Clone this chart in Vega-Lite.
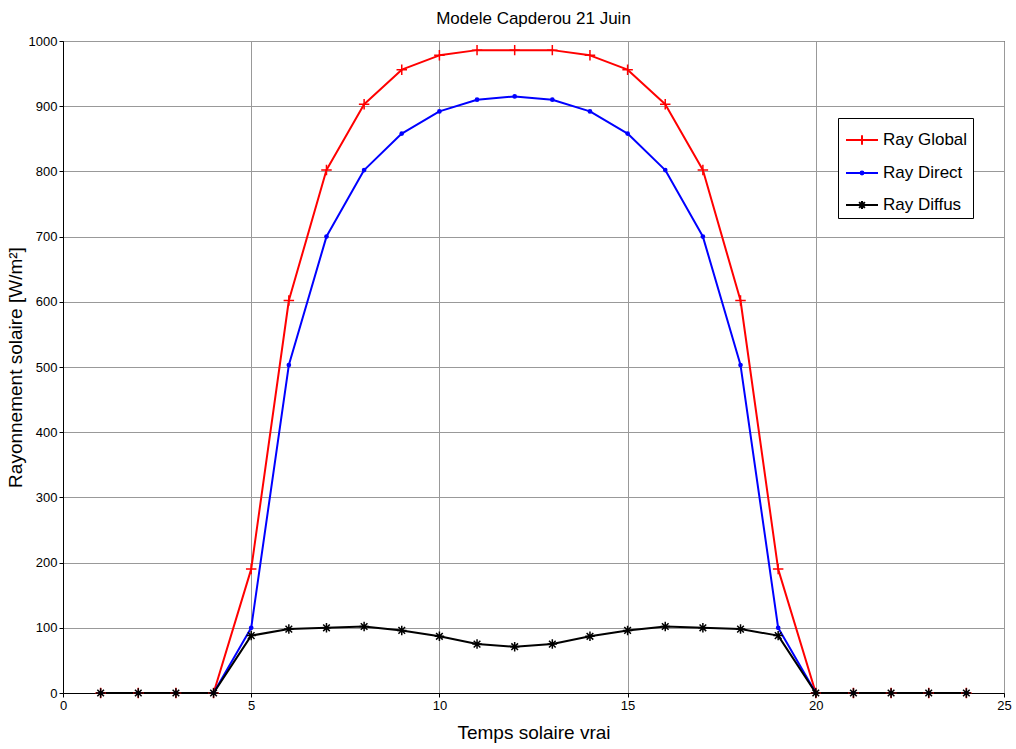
{
  "$schema": "https://vega.github.io/schema/vega-lite/v6.json",
  "autosize": "none",
  "padding": {"left": 63, "top": 41, "right": 12, "bottom": 56},
  "width": 941,
  "height": 652,
  "background": "white",
  "title": {"text": "Modele Capderou 21 Juin", "font": "Liberation Sans Narrow, Liberation Sans", "fontSize": 17, "fontWeight": "normal", "color": "black", "offset": 7},
  "config": {
    "view": {"stroke": "black", "strokeWidth": 1},
    "font": "Liberation Sans Narrow, Liberation Sans"
  },
  "data": {"values": [
    {"h":1,"s":"Ray Global","v":0},{"h":2,"s":"Ray Global","v":0},{"h":3,"s":"Ray Global","v":0},{"h":4,"s":"Ray Global","v":0},
    {"h":5,"s":"Ray Global","v":190},{"h":6,"s":"Ray Global","v":602},{"h":7,"s":"Ray Global","v":802},{"h":8,"s":"Ray Global","v":903},
    {"h":9,"s":"Ray Global","v":956},{"h":10,"s":"Ray Global","v":978},{"h":11,"s":"Ray Global","v":986},{"h":12,"s":"Ray Global","v":986},
    {"h":13,"s":"Ray Global","v":986},{"h":14,"s":"Ray Global","v":978},{"h":15,"s":"Ray Global","v":956},{"h":16,"s":"Ray Global","v":903},
    {"h":17,"s":"Ray Global","v":802},{"h":18,"s":"Ray Global","v":602},{"h":19,"s":"Ray Global","v":190},{"h":20,"s":"Ray Global","v":0},
    {"h":21,"s":"Ray Global","v":0},{"h":22,"s":"Ray Global","v":0},{"h":23,"s":"Ray Global","v":0},{"h":24,"s":"Ray Global","v":0},
    {"h":1,"s":"Ray Direct","v":0},{"h":2,"s":"Ray Direct","v":0},{"h":3,"s":"Ray Direct","v":0},{"h":4,"s":"Ray Direct","v":0},
    {"h":5,"s":"Ray Direct","v":100},{"h":6,"s":"Ray Direct","v":503},{"h":7,"s":"Ray Direct","v":700},{"h":8,"s":"Ray Direct","v":802},
    {"h":9,"s":"Ray Direct","v":858},{"h":10,"s":"Ray Direct","v":892},{"h":11,"s":"Ray Direct","v":910},{"h":12,"s":"Ray Direct","v":915},
    {"h":13,"s":"Ray Direct","v":910},{"h":14,"s":"Ray Direct","v":892},{"h":15,"s":"Ray Direct","v":858},{"h":16,"s":"Ray Direct","v":802},
    {"h":17,"s":"Ray Direct","v":700},{"h":18,"s":"Ray Direct","v":503},{"h":19,"s":"Ray Direct","v":100},{"h":20,"s":"Ray Direct","v":0},
    {"h":21,"s":"Ray Direct","v":0},{"h":22,"s":"Ray Direct","v":0},{"h":23,"s":"Ray Direct","v":0},{"h":24,"s":"Ray Direct","v":0},
    {"h":1,"s":"Ray Diffus","v":0},{"h":2,"s":"Ray Diffus","v":0},{"h":3,"s":"Ray Diffus","v":0},{"h":4,"s":"Ray Diffus","v":0},
    {"h":5,"s":"Ray Diffus","v":88},{"h":6,"s":"Ray Diffus","v":98},{"h":7,"s":"Ray Diffus","v":100},{"h":8,"s":"Ray Diffus","v":102},
    {"h":9,"s":"Ray Diffus","v":96},{"h":10,"s":"Ray Diffus","v":87},{"h":11,"s":"Ray Diffus","v":75},{"h":12,"s":"Ray Diffus","v":71},
    {"h":13,"s":"Ray Diffus","v":75},{"h":14,"s":"Ray Diffus","v":87},{"h":15,"s":"Ray Diffus","v":96},{"h":16,"s":"Ray Diffus","v":102},
    {"h":17,"s":"Ray Diffus","v":100},{"h":18,"s":"Ray Diffus","v":98},{"h":19,"s":"Ray Diffus","v":88},{"h":20,"s":"Ray Diffus","v":0},
    {"h":21,"s":"Ray Diffus","v":0},{"h":22,"s":"Ray Diffus","v":0},{"h":23,"s":"Ray Diffus","v":0},{"h":24,"s":"Ray Diffus","v":0}
  ]},
  "encoding": {
    "x": {"field": "h", "type": "quantitative", "scale": {"domain": [0, 25], "nice": false},
      "axis": {"title": "Temps solaire vrai", "values": [0,5,10,15,20,25], "grid": true, "gridColor": "#999999", "gridOpacity": 1,
        "domainColor": "black", "tickColor": "black", "tickSize": 4, "labelColor": "black", "labelFontSize": 13, "labelPadding": 2,
        "titleFontSize": 19, "titleFontWeight": "normal", "titleColor": "black", "titlePadding": 11, "labelFlush": false}},
    "y": {"field": "v", "type": "quantitative", "scale": {"domain": [0, 1000], "nice": false},
      "axis": {"title": "Rayonnement solaire [W/m²]", "values": [0,100,200,300,400,500,600,700,800,900,1000], "format": "d", "grid": true, "gridColor": "#999999", "gridOpacity": 1,
        "domainColor": "black", "tickColor": "black", "tickSize": 4, "labelColor": "black", "labelFontSize": 13, "labelPadding": 2,
        "titleFontSize": 19, "titleFontWeight": "normal", "titleColor": "black", "titlePadding": 3}}
  },
  "layer": [
    {
      "mark": {"type": "line", "strokeJoin": "round"},
      "encoding": {
        "color": {"field": "s", "type": "nominal", "scale": {"domain": ["Ray Global", "Ray Direct", "Ray Diffus"], "range": ["#ff0000", "#0000ff", "#000000"]},
          "legend": {"title": null, "orient": "none", "legendX": 775, "legendY": 77, "symbolType": "stroke", "symbolSize": 1024, "symbolStrokeWidth": 2,
            "labelFontSize": 17, "labelColor": "black", "strokeColor": "black", "fillColor": "white", "padding": 5, "rowPadding": 7, "labelOffset": 4, "symbolOffset": 2,
            "encode": {"symbols": {"update": {"shape": {"signal": "datum.value === 'Ray Global' ? 'M-1,0H1M0,-0.3V0.3' : datum.value === 'Ray Direct' ? 'M-1,0H1M-0.09,0A0.09,0.09 0 1,0 0.09,0A0.09,0.09 0 1,0 -0.09,0' : 'M-1,0H1M0,-0.25V0.25M-0.25,0H0.25M-0.18,-0.18L0.18,0.18M-0.18,0.18L0.18,-0.18'"}}}}}},
        "strokeWidth": {"field": "s", "type": "nominal", "scale": {"domain": ["Ray Global", "Ray Direct", "Ray Diffus"], "range": [2, 2, 3]}, "legend": null}
      }
    },
    {
      "transform": [{"filter": "datum.s === 'Ray Global'"}],
      "mark": {"type": "point", "filled": false, "shape": "M-1,0H1M0,-1V1", "size": 110, "stroke": "#ff0000", "strokeWidth": 1.5, "opacity": 1}
    },
    {
      "transform": [{"filter": "datum.s === 'Ray Direct'"}],
      "mark": {"type": "point", "filled": true, "shape": "circle", "size": 22, "fill": "#0000ff", "color": "#0000ff", "opacity": 1}
    },
    {
      "transform": [{"filter": "datum.s === 'Ray Diffus'"}],
      "mark": {"type": "point", "filled": false, "shape": "M-1,0H1M0,-1V1M-0.7,-0.7L0.7,0.7M-0.7,0.7L0.7,-0.7", "size": 90, "stroke": "#000000", "strokeWidth": 1.5, "opacity": 1}
    }
  ]
}
